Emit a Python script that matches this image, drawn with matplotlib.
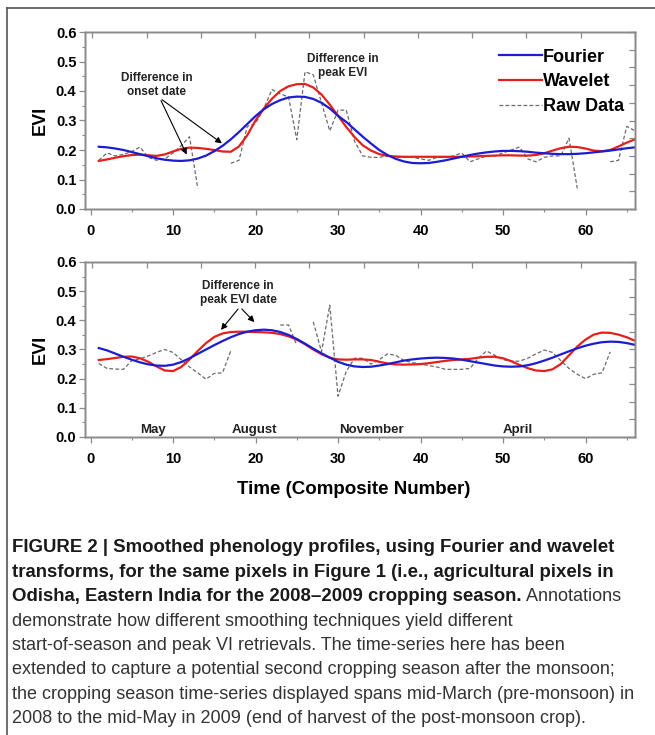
import numpy as np
import matplotlib.pyplot as plt
from matplotlib.lines import Line2D
from matplotlib.ticker import FormatStrFormatter

nan = np.nan

# composite number (x axis), 1..66
composite = list(range(1, 67))

# top panel
top_fourier = [0.211, 0.209, 0.205, 0.200, 0.193, 0.186, 0.179, 0.172, 0.167, 0.164,
               0.163, 0.165, 0.171, 0.181, 0.196, 0.214, 0.236, 0.261, 0.288, 0.315,
               0.338, 0.356, 0.369, 0.378, 0.381, 0.380, 0.373, 0.360, 0.341, 0.316,
               0.295, 0.270, 0.245, 0.222, 0.200, 0.183, 0.170, 0.161, 0.156, 0.155,
               0.156, 0.160, 0.165, 0.171, 0.177, 0.183, 0.188, 0.192, 0.195, 0.197,
               0.197, 0.196, 0.194, 0.191, 0.189, 0.187, 0.186, 0.186, 0.187, 0.189,
               0.192, 0.195, 0.198, 0.202, 0.206, 0.209]
top_wavelet = [0.163, 0.168, 0.174, 0.179, 0.183, 0.184, 0.182, 0.180, 0.185, 0.195,
               0.204, 0.208, 0.207, 0.204, 0.200, 0.195, 0.194, 0.212, 0.250, 0.300,
               0.340, 0.374, 0.400, 0.416, 0.423, 0.424, 0.412, 0.388, 0.354, 0.316,
               0.278, 0.244, 0.216, 0.198, 0.186, 0.180, 0.178, 0.177, 0.177, 0.177,
               0.177, 0.177, 0.177, 0.177, 0.177, 0.178, 0.179, 0.180, 0.181, 0.182,
               0.182, 0.181, 0.181, 0.183, 0.189, 0.198, 0.206, 0.211, 0.210, 0.205,
               0.198, 0.196, 0.200, 0.212, 0.225, 0.236]
top_raw = [0.165, 0.19, 0.18, 0.185, 0.195, 0.21, 0.175, 0.165, 0.17, 0.19,
           0.215, 0.245, 0.07, nan, nan, nan, 0.155, 0.165, 0.28, 0.29,
           0.34, 0.405, 0.39, 0.38, 0.235, 0.465, 0.455, 0.36, 0.265, 0.335,
           0.335, 0.23, 0.18, 0.175, 0.175, 0.18, 0.175, 0.175, 0.175, 0.17,
           0.165, 0.175, 0.175, 0.18, 0.19, 0.16, 0.17, 0.18, 0.18, 0.19,
           0.2, 0.21, 0.17, 0.16, 0.175, 0.18, 0.18, 0.24, 0.07, nan,
           nan, nan, 0.16, 0.165, 0.28, 0.265]

# bottom panel
bot_fourier = [0.305, 0.297, 0.286, 0.275, 0.265, 0.256, 0.249, 0.245, 0.244, 0.248,
               0.257, 0.270, 0.285, 0.300, 0.315, 0.329, 0.342, 0.353, 0.361, 0.366,
               0.368, 0.366, 0.360, 0.350, 0.336, 0.320, 0.303, 0.287, 0.272, 0.258,
               0.248, 0.242, 0.240, 0.241, 0.245, 0.250, 0.256, 0.262, 0.266, 0.269,
               0.271, 0.272, 0.271, 0.269, 0.265, 0.260, 0.255, 0.250, 0.245, 0.242,
               0.241, 0.242, 0.246, 0.253, 0.262, 0.272, 0.283, 0.294, 0.304, 0.313,
               0.320, 0.325, 0.327, 0.326, 0.322, 0.316]
bot_wavelet = [0.264, 0.267, 0.271, 0.275, 0.276, 0.270, 0.258, 0.242, 0.228, 0.226,
               0.240, 0.266, 0.295, 0.322, 0.343, 0.355, 0.360, 0.361, 0.361, 0.360,
               0.359, 0.357, 0.353, 0.345, 0.334, 0.318, 0.300, 0.284, 0.272, 0.266,
               0.265, 0.266, 0.266, 0.264, 0.258, 0.252, 0.249, 0.248, 0.249, 0.250,
               0.253, 0.257, 0.261, 0.264, 0.266, 0.268, 0.272, 0.275, 0.275, 0.270,
               0.260, 0.247, 0.236, 0.228, 0.226, 0.232, 0.250, 0.280, 0.310, 0.334,
               0.351, 0.358, 0.357, 0.351, 0.342, 0.330]
bot_raw = [0.252, 0.235, 0.233, 0.232, 0.262, 0.268, 0.278, 0.290, 0.300, 0.290,
           0.265, 0.240, 0.220, 0.198, 0.218, 0.220, 0.295, nan, nan, nan,
           nan, nan, 0.384, 0.384, 0.315, nan, 0.395, 0.292, 0.452, 0.140,
           0.225, 0.270, 0.270, 0.250, 0.265, 0.285, 0.280, 0.262, 0.255, 0.250,
           0.245, 0.240, 0.232, 0.232, 0.232, 0.235, 0.270, 0.295, 0.280, 0.265,
           0.260, 0.260, 0.270, 0.285, 0.298, 0.290, 0.262, 0.235, 0.215, 0.200,
           0.215, 0.220, 0.292, nan, nan, nan]

months = ['May', 'August', 'November', 'April']
month_pos = [7.6, 19.9, 34.1, 51.8]

caption_bold = ['FIGURE 2 | Smoothed phenology profiles, using Fourier and wavelet',
                'transforms, for the same pixels in Figure 1 (i.e., agricultural pixels in',
                'Odisha, Eastern India for the 2008\u20132009 cropping season.']
caption_rest = ' Annotations'
caption_plain = ['demonstrate how different smoothing techniques yield different',
                 'start-of-season and peak VI retrievals. The time-series here has been',
                 'extended to capture a potential second cropping season after the monsoon;',
                 'the cropping season time-series displayed spans mid-March (pre-monsoon) in',
                 '2008 to the mid-May in 2009 (end of harvest of the post-monsoon crop).']

plt.rcParams['font.family'] = ['Liberation Sans', 'DejaVu Sans']
plt.rcParams['font.weight'] = 'bold'

BLUE = '#1c1cd2'
RED = '#e3201b'
GRAY = '#6a6a6a'
FRAME = '#8a8a8a'

W, H = 655, 735
fig = plt.figure(figsize=(W / 100, H / 100), dpi=100)

ax1 = fig.add_axes([85 / W, 1 - 209 / H, 550 / W, 177 / H])
ax2 = fig.add_axes([85 / W, 1 - 437 / H, 550 / W, 175 / H])


def style(ax):
    ax.set_xlim(-0.67, 66)
    ax.set_ylim(0, 0.6)
    ax.set_xticks(range(0, 61, 10))
    ax.set_xticks(range(5, 66, 10), minor=True)
    ax.set_yticks(np.arange(0, 0.61, 0.1))
    ax.set_yticks(np.arange(0.05, 0.6, 0.1), minor=True)
    ax.yaxis.set_major_formatter(FormatStrFormatter('%.1f'))
    ax.tick_params(which='major', direction='out', length=4, width=0.9, color=FRAME,
                   labelsize=10.5)
    ax.tick_params(which='minor', direction='out', length=2.5, width=0.8, color=FRAME)
    ax.tick_params(axis='x', which='major', pad=7)
    ax.tick_params(axis='y', which='major', pad=2.2)
    for s in ax.spines.values():
        s.set_color(FRAME)
        s.set_linewidth(1.0)
    ax.set_ylabel('EVI', fontsize=13, fontweight='bold')
    ax.yaxis.label.set_va('center')
    ax.yaxis.set_label_coords(-0.081, 0.5)

    # mirrored ticks on top / right (Origin style)
    axt = ax.twiny()
    axt.set_xlim(0, 1)
    axt.set_xticks(np.linspace(0.0135, 1.0, 11))
    axt.tick_params(axis='x', direction='in', length=4, width=0.9, color=FRAME,
                    labeltop=False)
    axr = ax.twinx()
    axr.set_ylim(0, 1)
    axr.set_yticks(np.linspace(0, 1, 11))
    axr.tick_params(axis='y', direction='in', length=4, width=0.9, color=FRAME,
                    labelright=False)
    for a in (axt, axr):
        for s in a.spines.values():
            s.set_color(FRAME)
            s.set_linewidth(1.0)


style(ax1)
style(ax2)

dash = dict(color=GRAY, lw=0.9, dashes=(3, 1.8))

r1, = ax1.plot(composite, top_raw, **dash)
w1, = ax1.plot(composite, top_wavelet, color=RED, lw=1.6)
f1, = ax1.plot(composite, top_fourier, color=BLUE, lw=1.6)

ax2.plot(composite, bot_raw, **dash)
ax2.plot(composite, bot_wavelet, color=RED, lw=1.6)
ax2.plot(composite, bot_fourier, color=BLUE, lw=1.6)

ax1.legend([f1, w1, r1], ['Fourier', 'Wavelet', 'Raw Data'], loc='upper right',
           bbox_to_anchor=(0.98, 0.905), frameon=False,
           prop={'size': 13, 'weight': 'bold'}, handlelength=2.4,
           handletextpad=0.05, labelspacing=0.42, borderpad=0, borderaxespad=0)

arrow = dict(arrowstyle='-|>', color='black', lw=0.8, mutation_scale=9)

ax1.text(8.05, 0.42, 'Difference in\nonset date', ha='center', va='center',
         fontsize=8.5, color='#222222')
ax1.annotate('', xy=(11.8, 0.176), xytext=(8.4, 0.376), arrowprops=arrow)
ax1.annotate('', xy=(16.2, 0.217), xytext=(8.4, 0.376), arrowprops=arrow)
ax1.text(30.6, 0.485, 'Difference in\npeak EVI', ha='center', va='center',
         fontsize=8.5, color='#222222')

ax2.text(17.9, 0.495, 'Difference in\npeak EVI date', ha='center', va='center',
         fontsize=8.5, color='#222222')
ax2.annotate('', xy=(15.6, 0.36), xytext=(18.1, 0.446), arrowprops=arrow)
ax2.annotate('', xy=(20.1, 0.387), xytext=(18.1, 0.446), arrowprops=arrow)

for name, pos in zip(months, month_pos):
    ax2.text(pos, 0.025, name, ha='center', va='center', fontsize=9.5, color='#222222')

ax2.set_xlabel('Time (Composite Number)', fontsize=13.5, fontweight='bold')
ax2.xaxis.label.set_va('center')
ax2.xaxis.set_label_coords(0.489, -53 / 175)

# caption
cap_x = 12 / W
fs_bold = 13.4
fs_plain = 13.0
y0 = 546
step = 24.4
lines = []
for i, t in enumerate(caption_bold):
    yb = 1 - (y0 + i * step + 6.5) / H
    lines.append(fig.text(cap_x, yb, t, ha='left', va='baseline', fontsize=fs_bold,
                          fontweight='bold', color='#1a1a1a'))
ax2.annotate(caption_rest, xy=(1, 0), xycoords=lines[-1], ha='left', va='bottom',
             fontsize=fs_plain, fontweight='normal', color='#333333',
             annotation_clip=False)
for j, t in enumerate(caption_plain):
    i = j + len(caption_bold)
    yb = 1 - (y0 + i * step + 6.5) / H
    fig.text(cap_x, yb, t, ha='left', va='baseline', fontsize=fs_plain,
             fontweight='normal', color='#333333')

# outer frame lines (top and left)
fig.add_artist(Line2D([7 / W, 1], [1 - 8 / H, 1 - 8 / H], transform=fig.transFigure,
                      color='#555555', lw=1.2))
fig.add_artist(Line2D([7 / W, 7 / W], [0, 1 - 8 / H], transform=fig.transFigure,
                      color='#555555', lw=1.2))

fig.savefig('out.png', dpi=100)
